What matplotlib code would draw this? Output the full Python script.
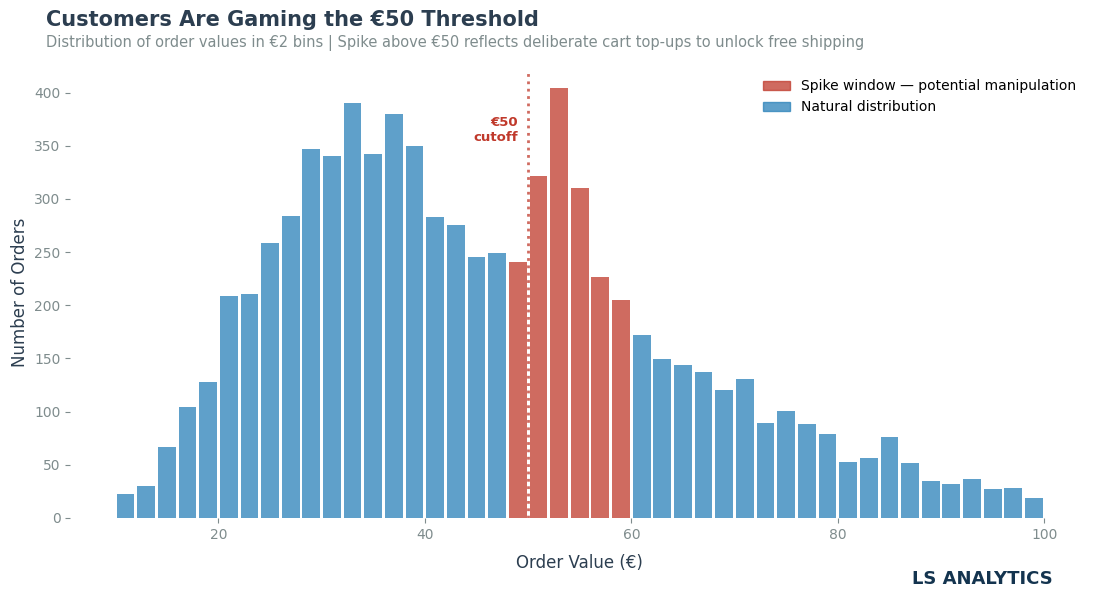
import matplotlib.pyplot as plt
from matplotlib.patches import Patch

# 2-euro bins from 10 to 100, bar centres at the bin midpoints
bin_centers = list(range(11, 100, 2))
order_counts = [
    22, 30, 67, 104, 128, 209, 211, 259, 284, 347,
    340, 390, 342, 380, 350, 283, 276, 245, 249, 241,
    322, 404, 310, 227, 205, 172, 149, 144, 137, 120,
    131, 89, 101, 88, 79, 53, 56, 76, 52, 35,
    32, 37, 27, 28, 19,
]
SPIKE_LO, SPIKE_HI = 48, 60
THRESHOLD = 50

BLUE = "#2980b9"
RED = "#c0392b"
DARK = "#2c3e50"
GREY = "#7f8c8d"

fig = plt.figure(figsize=(10.99, 5.98), dpi=100)
ax = fig.add_axes([0.064, 0.134, 0.927, 0.754])

colors = [RED if SPIKE_LO <= c < SPIKE_HI else BLUE for c in bin_centers]
ax.bar(bin_centers, order_counts, width=1.72, color=colors, alpha=0.75,
       linewidth=0)

ax.axvline(THRESHOLD, ymax=0.99, color=RED, linestyle=":", linewidth=2,
           alpha=0.75)
ax.text(THRESHOLD - 1, 365, "€50\ncutoff", color=RED, fontsize=9.5,
        fontweight="bold", ha="right", va="center")

ax.set_yticks(range(0, 401, 50))
ax.set_xticks([20, 40, 60, 80, 100])
ax.tick_params(colors=GREY, labelsize=10)
for spine in ax.spines.values():
    spine.set_visible(False)

ax.set_xlabel("Order Value (€)", fontsize=12, color=DARK, labelpad=9)
ax.set_ylabel("Number of Orders", fontsize=12, color=DARK)

handles = [
    Patch(facecolor=RED, edgecolor=RED, alpha=0.75,
          label="Spike window — potential manipulation"),
    Patch(facecolor=BLUE, edgecolor=BLUE, alpha=0.75,
          label="Natural distribution"),
]
ax.legend(handles=handles, loc="upper right", frameon=False, fontsize=10,
          bbox_to_anchor=(1.0, 1.0))

fig.text(0.042, 0.967, "Customers Are Gaming the €50 Threshold",
         fontsize=15, fontweight="bold", color=DARK, va="center")
fig.text(0.042, 0.928,
         "Distribution of order values in €2 bins | Spike above €50 reflects "
         "deliberate cart top-ups to unlock free shipping",
         fontsize=10.5, color=GREY, va="center")
fig.text(0.958, 0.032, "LS ANALYTICS", fontsize=13, fontweight="bold",
         color="#14344f", ha="right", va="center")

fig.savefig("out.png", dpi=100)
